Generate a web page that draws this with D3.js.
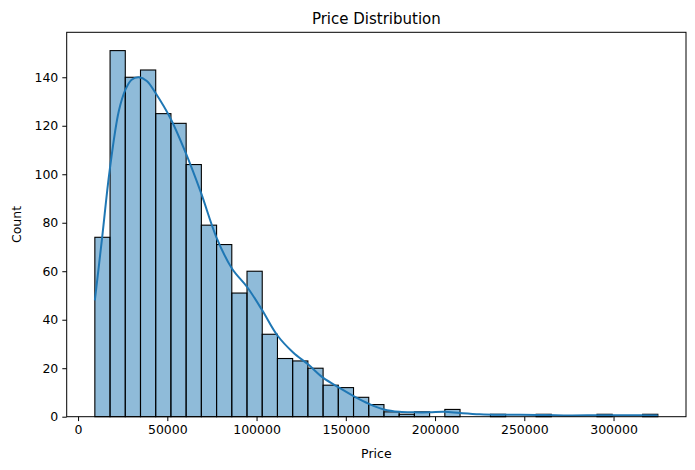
<!DOCTYPE html>
<html>
<head>
<meta charset="utf-8">
<script src="https://cdn.jsdelivr.net/npm/d3@7"></script>
<style>
  body { margin: 0; background: #fff; }
  text { font-family: "DejaVu Sans", sans-serif; fill: #000; }
</style>
</head>
<body>
<svg id="chart" width="695" height="470"></svg>
<script>
// histogram bins (Price), counts per bin
var binStart = 9400,
    binWidth = 8525;
var counts = [74, 151, 140, 143, 125, 121, 104, 79, 71, 51, 60, 34, 24, 23, 20, 13, 12, 8, 5, 2,
              1, 2, 0, 3, 0, 0, 1, 0, 0, 1, 0, 0, 0, 1, 0, 0, 1];

// kde curve (price, count)
var kdeX = [9400, 13500, 17600, 22800, 26600, 30000, 34000, 38500, 43400, 51800, 60200, 68800,
            77500, 86300, 94700, 103100, 111700, 120500, 129000, 137400, 146200, 154600,
            163000, 171400, 180000, 188300, 196900, 205100, 214000, 225000, 236500, 247700,
            261600, 275600, 292400, 309000, 324800];
var kdeY = [48, 74, 101, 126, 135, 139, 140, 138.5, 133.5, 123, 109, 92.5,
            74, 61, 53.5, 44, 33.5, 26.5, 21.5, 16, 12, 8.4,
            5.3, 3, 2, 1.8, 1.8, 2, 1.5, 1, 0.8, 0.8,
            0.7, 0.5, 0.6, 0.6, 0.5];

var xTicks = [0, 50000, 100000, 150000, 200000, 250000, 300000];
var yTicks = [0, 20, 40, 60, 80, 100, 120, 140];

var bins = counts.map(function(c, i) {
  return { x0: binStart + i * binWidth, x1: binStart + (i + 1) * binWidth, count: c };
});

var W = 695, H = 470;
var m = { top: 32.3, right: 9, bottom: 53.3, left: 66.7 };
var w = W - m.left - m.right,
    h = H - m.top - m.bottom;

var svg = d3.select("#chart");
var g = svg.append("g")
    .attr("transform", "translate(" + m.left + "," + m.top + ")");

var lo = binStart, hi = binStart + counts.length * binWidth, pad = (hi - lo) * 0.05;
var x = d3.scaleLinear().domain([lo - pad, hi + pad]).range([0, w]);
var y = d3.scaleLinear().domain([0, d3.max(counts) * 1.05]).range([h, 0]);

// bars
g.selectAll("rect.bar")
    .data(bins.filter(function(d) { return d.count > 0; }))
  .enter().append("rect")
    .attr("class", "bar")
    .attr("x", function(d) { return x(d.x0); })
    .attr("width", function(d) { return x(d.x1) - x(d.x0); })
    .attr("y", function(d) { return y(d.count); })
    .attr("height", function(d) { return h - y(d.count); })
    .attr("fill", "rgba(31,119,180,0.5)")
    .attr("stroke", "#000")
    .attr("stroke-width", 1.1);

// kde line
var line = d3.line()
    .x(function(d, i) { return x(kdeX[i]); })
    .y(function(d) { return y(d); })
    .curve(d3.curveCatmullRom.alpha(0.5));

g.append("path")
    .datum(kdeY)
    .attr("fill", "none")
    .attr("stroke", "#1f77b4")
    .attr("stroke-width", 2)
    .attr("d", line);

// axes
var xAxis = g.append("g")
    .attr("transform", "translate(0," + h + ")")
    .call(d3.axisBottom(x).tickValues(xTicks).tickFormat(d3.format("d")).tickSize(4.4).tickPadding(4));
var yAxis = g.append("g")
    .call(d3.axisLeft(y).tickValues(yTicks).tickFormat(d3.format("d")).tickSize(4.4).tickPadding(4));

[xAxis, yAxis].forEach(function(a) {
  a.select(".domain").remove();
  a.selectAll("line").attr("stroke", "#000").attr("stroke-width", 1);
  a.selectAll("text").style("font-family", "DejaVu Sans").style("font-size", "12.5px").attr("fill", "#000");
});

// frame
g.append("rect")
    .attr("width", w)
    .attr("height", h)
    .attr("fill", "none")
    .attr("stroke", "#000")
    .attr("stroke-width", 1);

// labels
svg.append("text")
    .attr("x", m.left + w / 2)
    .attr("y", 24)
    .attr("text-anchor", "middle")
    .style("font-size", "15px")
    .text("Price Distribution");

svg.append("text")
    .attr("x", m.left + w / 2)
    .attr("y", 458)
    .attr("text-anchor", "middle")
    .style("font-size", "12.5px")
    .text("Price");

svg.append("text")
    .attr("transform", "translate(21," + (m.top + h / 2) + ") rotate(-90)")
    .attr("text-anchor", "middle")
    .style("font-size", "12.5px")
    .text("Count");
</script>
</body>
</html>
